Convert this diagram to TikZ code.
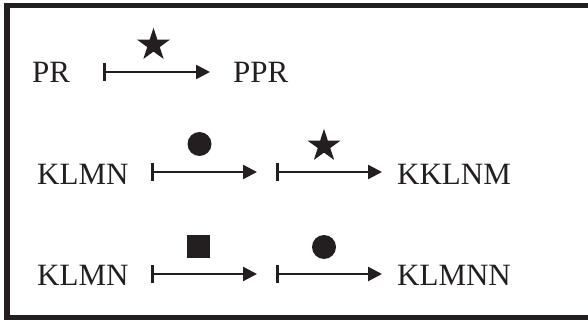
\documentclass[tikz,border=0pt]{standalone}
\usepackage{fontspec}
\setmainfont{Liberation Serif}
\usetikzlibrary{arrows.meta,shapes.geometric}
\definecolor{ink}{RGB}{35,31,32}
\begin{document}
\begin{tikzpicture}[x=1pt,y=-1pt,
  lbl/.style={anchor=base west,inner sep=0pt,text=ink,font=\fontsize{31}{37}\selectfont},
  conn/.style={draw=ink,line width=2.4pt,{Bar[width=18pt,line width=3pt]}-{Triangle[length=14pt,width=14pt]}},
  starsym/.style={star,star points=5,star point ratio=2.618,minimum size=34.5pt,inner sep=0pt,fill=ink},
  dotsym/.style={circle,minimum size=24pt,inner sep=0pt,fill=ink},
  sqsym/.style={rectangle,minimum size=23pt,inner sep=0pt,fill=ink}]
\useasboundingbox (0,0) rectangle (588,320);
\begin{scope}
\clip (0,0) rectangle (588,320);
\draw[draw=ink,line width=5.5pt] (7,5.5) rectangle (610,317.5);
\end{scope}
% row 1
\node[lbl] (pr) at (32,83) {PR};
\node[lbl] (ppr) at (233,83) {PPR};
\coordinate (a1s) at (103,72);
\coordinate (a1e) at (210,72);
\draw[conn] (a1s) -- (a1e);
\node[starsym] (s1) at (153.5,45) {};
% row 2
\node[lbl] (k2) at (37,185) {KLMN};
\node[lbl] (r2) at (397,185) {KKLNM};
\coordinate (b1s) at (151,172);
\coordinate (b1e) at (257,172);
\coordinate (b2s) at (276,172);
\coordinate (b2e) at (382,172);
\draw[conn] (b1s) -- (b1e);
\draw[conn] (b2s) -- (b2e);
\node[dotsym] (c2) at (199.5,144) {};
\node[starsym] (s2) at (324,146) {};
% row 3
\node[lbl] (k3) at (37,285) {KLMN};
\node[lbl] (r3) at (397,285) {KLMNN};
\coordinate (c1s) at (151,274);
\coordinate (c1e) at (257,274);
\coordinate (c2s) at (276,274);
\coordinate (c2e) at (382,274);
\draw[conn] (c1s) -- (c1e);
\draw[conn] (c2s) -- (c2e);
\node[sqsym] (q3) at (198.5,246.5) {};
\node[dotsym] (d3) at (324,247) {};
\end{tikzpicture}
\end{document}
